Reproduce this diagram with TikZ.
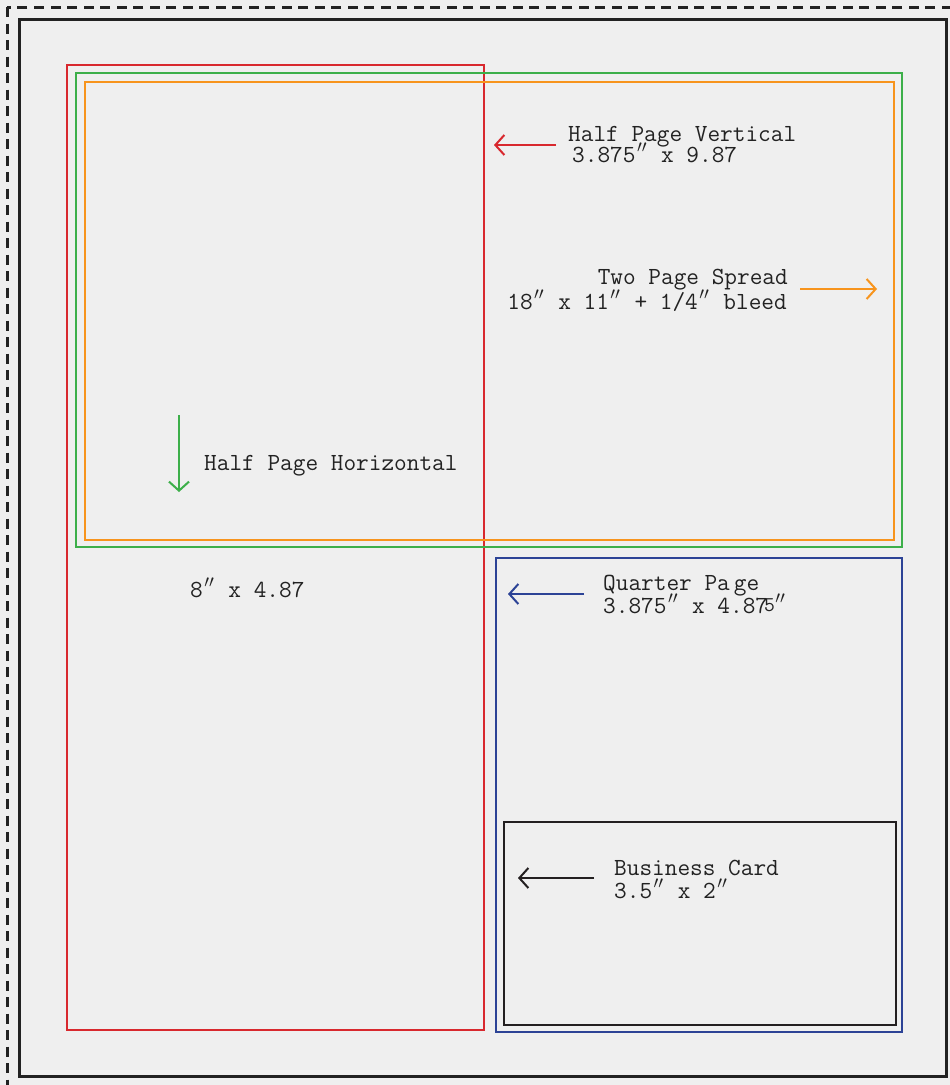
\documentclass[tikz,border=0pt]{standalone}
\usepackage{fontspec}
\usetikzlibrary{arrows.meta}
\definecolor{bg}{HTML}{EFEFEF}
\definecolor{ink}{HTML}{222222}
\definecolor{cred}{HTML}{D8282E}
\definecolor{cgreen}{HTML}{3DAF4A}
\definecolor{corange}{HTML}{F7941D}
\definecolor{cblue}{HTML}{2C4396}
\definecolor{cblack}{HTML}{231F20}
\newcommand{\dpr}{\makebox[0.525em][c]{$^{\prime\prime}$}}
\newcommand{\twoleft}[3]{\vtop{\baselineskip=#1\lineskiplimit=-1000pt\hbox{#2}\hbox{#3}}}
\newcommand{\tworight}[3]{\vtop{\baselineskip=#1\lineskiplimit=-1000pt\halign{\hfil##\cr #2\cr #3\cr}}}
\tikzset{
  lbl/.style={inner sep=0pt, text=ink, font=\ttfamily\fontsize{24.6}{24}\selectfont},
  box/.style={line width=1.4pt},
  pointer/.style={line width=2pt, -{Straight Barb[length=9pt,width=20pt,line width=2pt]}},
}
\begin{document}
\begin{tikzpicture}[x=1pt,y=-1pt]
\useasboundingbox (0,0) rectangle (950,1085);
\fill[bg] (0,0) rectangle (950,1085);
\begin{scope}
\clip (0,0) rectangle (950,1085);
\draw[ink, line width=3pt, dash pattern=on 10pt off 6.5pt] (7,7) rectangle (962,1100);
\end{scope}
\draw[ink, line width=3pt] (19,19) rectangle (946,1076);
% rectangles
\draw[box, cred] (67,65) rectangle (484,1030);
\draw[box, cgreen] (76,73) rectangle (902,547);
\draw[box, corange] (85,82) rectangle (894,540);
\draw[box, cblue] (496,558) rectangle (902,1032);
\draw[box, cblack] (504,822) rectangle (896,1025);
% labels
\node[lbl, anchor=base west] (hpv) at (568,141)
  {\twoleft{21pt}{Half Page Vertical}{\kern4pt 3.875\dpr{} x 9.87}};
\node[lbl, anchor=base east] (tps) at (788,284)
  {\tworight{25pt}{Two Page Spread}{18\dpr{} x 11\dpr{} + 1/4\dpr{} bleed\kern1pt}};
\node[lbl, anchor=base west] (hph) at (204,470) {Half Page Horizontal};
\node[lbl, anchor=base west] (hpsize) at (190,597) {8\dpr{} x 4.87};
\node[lbl, anchor=base west] (qp) at (603,590)
  {\twoleft{23pt}{Quarter Pa\kern4pt ge}{3.875\dpr{} x 4.87\kern-4pt\raisebox{2pt}{\fontsize{21}{21}\selectfont 5}\kern-1pt\dpr}};
\node[lbl, anchor=base west] (bc) at (614,875)
  {\twoleft{23pt}{Business Card}{3.5\dpr{} x 2\dpr}};
% arrow ends
\coordinate (rTail) at (556,145); \coordinate (rTip) at (494,145);
\coordinate (oTail) at (800,289); \coordinate (oTip) at (877,289);
\coordinate (gTail) at (179,415); \coordinate (gTip) at (179,492);
\coordinate (bTail) at (584,594); \coordinate (bTip) at (508,594);
\coordinate (kTail) at (594,878); \coordinate (kTip) at (518,878);
\draw[pointer, cred] (rTail) -- (rTip);
\draw[pointer, corange] (oTail) -- (oTip);
\draw[pointer, cgreen] (gTail) -- (gTip);
\draw[pointer, cblue] (bTail) -- (bTip);
\draw[pointer, cblack] (kTail) -- (kTip);
\end{tikzpicture}
\end{document}
